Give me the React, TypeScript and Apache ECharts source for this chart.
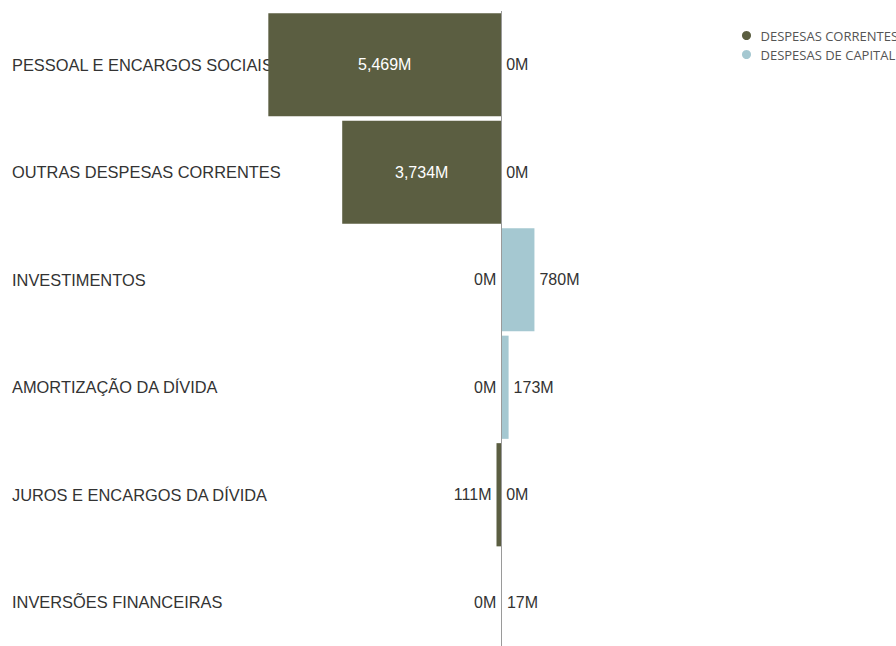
import React, { useEffect, useRef } from "react";
import * as echarts from "echarts";

const categories = [
  "PESSOAL E ENCARGOS SOCIAIS",
  "OUTRAS DESPESAS CORRENTES",
  "INVESTIMENTOS",
  "AMORTIZAÇÃO DA DÍVIDA",
  "JUROS E ENCARGOS DA DÍVIDA",
  "INVERSÕES FINANCEIRAS",
];
const correntes = [5469, 3734, 0, 0, 111, 0];
const capital = [0, 0, 780, 173, 0, 17];
const seriesNames = ["DESPESAS CORRENTES", "DESPESAS DE CAPITAL"];

const fmt = (v: number) => Math.abs(v).toLocaleString("en-US") + "M";

export default function App() {
  const ref = useRef<HTMLDivElement>(null);
  useEffect(() => {
    if (!ref.current) return;
    const chart = echarts.init(ref.current, null, { renderer: "svg" });
    const ff = "Liberation Sans, Arial, sans-serif";
    const labelFont = { fontFamily: ff, fontSize: 16, color: "#333" };
    chart.setOption({
      animation: false,
      legend: {
        orient: "vertical",
        left: 737,
        top: 24,
        icon: "circle",
        itemWidth: 18,
        itemHeight: 9,
        itemGap: 6,
        textStyle: { fontFamily: "Open Sans", fontSize: 13, color: "#555" },
        data: seriesNames,
      },
      grid: { left: 20, right: 0, top: 11, height: 645 },
      xAxis: { type: "value", min: -11300, max: 9270, show: false, splitLine: { show: false } },
      yAxis: {
        type: "category",
        inverse: true,
        data: categories,
        axisLine: { show: false },
        axisTick: { show: false },
        axisLabel: {
          align: "left",
          margin: 8,
          fontFamily: ff,
          fontSize: 16.4,
          color: "#333",
        },
      },
      series: [
        {
          name: seriesNames[0],
          type: "bar",
          barGap: "-100%",
          barCategoryGap: "4%",
          itemStyle: { color: "#5b5e41" },
          z: 3,
          data: correntes.map((v) => ({
            value: -v,
            label:
              v > 1000
                ? { show: true, position: "inside", color: "#fff", fontFamily: ff, fontSize: 16, formatter: () => fmt(v) }
                : { show: true, position: "left", distance: 5, formatter: () => fmt(v), ...labelFont },
          })),
          markLine: {
            silent: true,
            symbol: "none",
            label: { show: false },
            lineStyle: { color: "#9a9a9a", width: 1, type: "solid" },
            data: [{ xAxis: 0 }],
          },
        },
        {
          name: seriesNames[1],
          type: "bar",
          barGap: "-100%",
          barCategoryGap: "4%",
          itemStyle: { color: "#a5c8d1" },
          z: 3,
          data: capital.map((v) => ({
            value: v,
            label: { show: true, position: "right", distance: 5, formatter: () => fmt(v), ...labelFont },
          })),
        },
      ],
    });
    return () => chart.dispose();
  }, []);
  return (
    <div style={{ position: "absolute", left: 0, top: 0, width: 896, height: 646, overflow: "hidden" }}>
      <div ref={ref} style={{ width: 896, height: 670 }} />
    </div>
  );
}
